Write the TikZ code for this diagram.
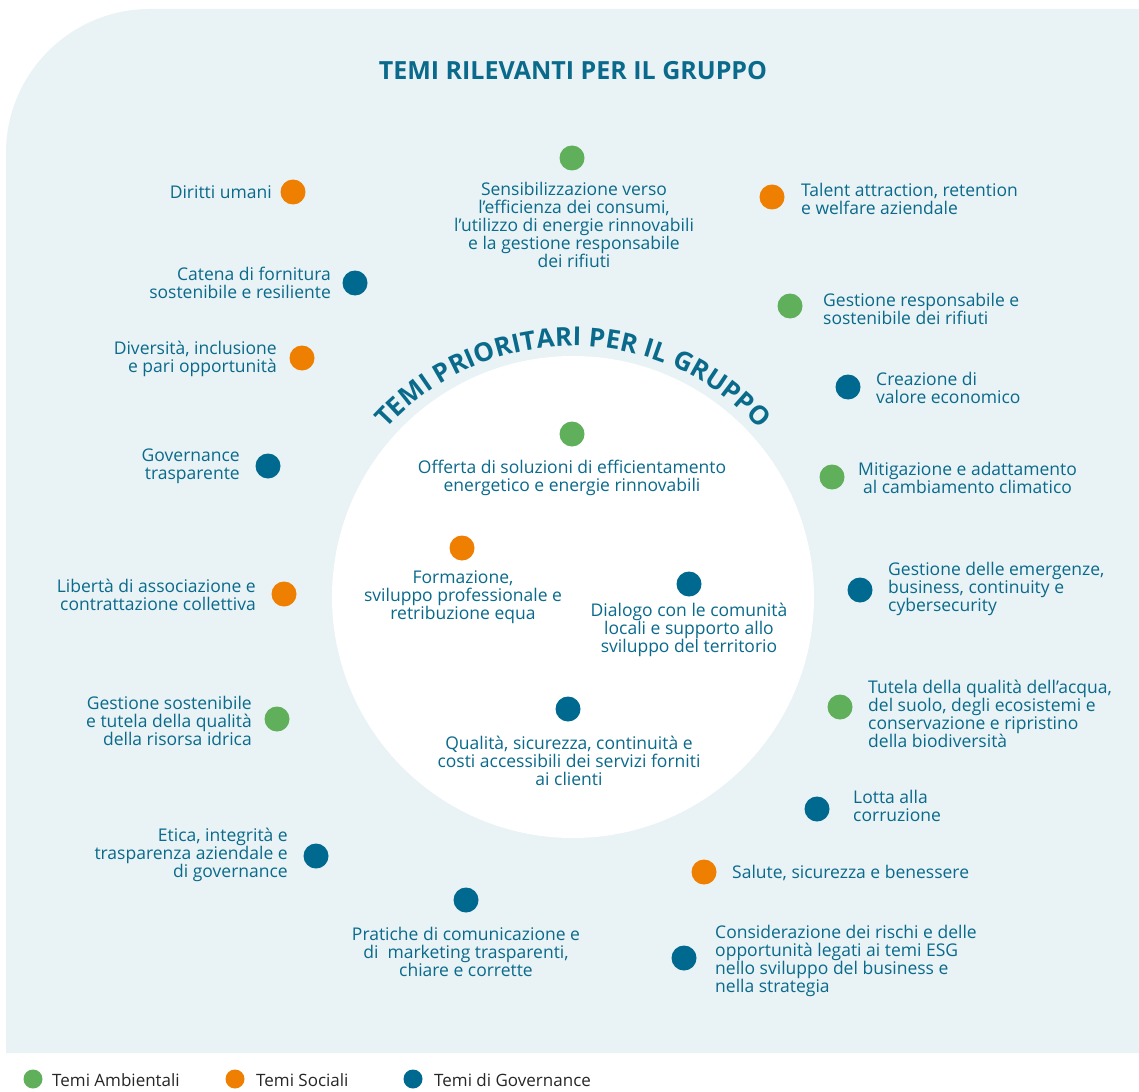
\documentclass[tikz,border=0pt]{standalone}
\usepackage{fontspec}
\setmainfont{Open Sans}
\usetikzlibrary{decorations.text}
\definecolor{panel}{HTML}{E9F2F4}
\definecolor{tema}{HTML}{0A6A8C}
\definecolor{ambgreen}{HTML}{5FAF5B}
\definecolor{socorange}{HTML}{EE7F00}
\definecolor{govblue}{HTML}{00698F}
\definecolor{legendtext}{HTML}{262626}

\begin{document}
\begin{tikzpicture}
[x=1pt, y=-1pt,
dot/.style={circle, minimum size=25pt, inner sep=0pt},
amb/.style={dot, fill=ambgreen},
soc/.style={dot, fill=socorange},
gov/.style={dot, fill=govblue},
theme/.style={text=tema, font=\fontsize{17.5}{18}\selectfont, inner sep=0pt},
key/.style={text=legendtext, font=\fontsize{17}{18}\selectfont, inner sep=0pt, anchor=west}]

\useasboundingbox (0, 0) rectangle (1139, 1091);
\fill [panel] (6, 1053) -- (6, 153) .. controls (6, 73.5) and (70.5, 9) .. (150, 9) -- (1139, 9) -- (1139, 1053) -- cycle;
\fill [white] (573, 597) circle [radius=241];

\node (title) at (573, 71) [text=tema, font=\fontsize{25}{25}\selectfont\bfseries] {TEMI RILEVANTI PER IL GRUPPO};
\path [shift={(573, 597)}, decorate, decoration={text along path, text={|\fontsize{26}{26}\selectfont\bfseries|TEMI PRIORITARI PER IL GRUPPO}, text color=tema, text align=fit to path}] (-138:251) arc [start angle=-138, end angle=-42, radius=251];

\node (a1) at (572, 158) [amb] {};
\node (s1) at (293, 192) [soc] {};
\node (s2) at (772, 197) [soc] {};
\node (g1) at (355, 283) [gov] {};
\node (a2) at (790, 306) [amb] {};
\node (s3) at (302, 358) [soc] {};
\node (g2) at (848, 387) [gov] {};
\node (g3) at (268, 466) [gov] {};
\node (a3) at (832, 477) [amb] {};
\node (a4) at (572, 434) [amb] {};
\node (s4) at (462, 548) [soc] {};
\node (s5) at (284, 594) [soc] {};
\node (g4) at (860, 590) [gov] {};
\node (g5) at (689, 584) [gov] {};
\node (a5) at (277, 719) [amb] {};
\node (a6) at (840, 707) [amb] {};
\node (g6) at (568, 709) [gov] {};
\node (g7) at (817, 809) [gov] {};
\node (g8) at (316, 856) [gov] {};
\node (s6) at (704, 872) [soc] {};
\node (g9) at (466, 900) [gov] {};
\node (g10) at (684, 958) [gov] {};

\node (ta1) at (574, 225) [theme, align=center] {Sensibilizzazione verso\\l’efficienza dei consumi,\\l’utilizzo di energie rinnovabili\\e la gestione responsabile\\dei rifiuti};
\node (ts1) at (272, 192) [theme, anchor=east, align=right] {Diritti umani};
\node (ts2) at (801, 199) [theme, anchor=west, align=left] {Talent attraction, retention\\e welfare aziendale};
\node (tg1) at (331, 283) [theme, anchor=east, align=right] {Catena di fornitura\\sostenibile e resiliente};
\node (ta2) at (823, 309) [theme, anchor=west, align=left] {Gestione responsabile e\\sostenibile dei rifiuti};
\node (ts3) at (277, 359) [theme, anchor=east, align=right] {Diversità, inclusione\\e pari opportunità};
\node (tg2) at (876, 388) [theme, anchor=west, align=left] {Creazione di\\valore economico};
\node (tg3) at (240, 466) [theme, anchor=east, align=right] {Governance\\trasparente};
\node (ta3) at (858, 478) [theme, anchor=west, align=center] {Mitigazione e adattamento\\al cambiamento climatico};
\node (ta4) at (572, 478) [theme, align=center] {Offerta di soluzioni di efficientamento\\energetico e energie rinnovabili};
\node (ts4) at (463, 597) [theme, align=center] {Formazione,\\sviluppo professionale e\\retribuzione equa};
\node (ts5) at (256, 595) [theme, anchor=east, align=right] {Libertà di associazione e\\contrattazione collettiva};
\node (tg4) at (888, 589) [theme, anchor=west, align=left] {Gestione delle emergenze,\\business, continuity e\\cybersecurity};
\node (tg5) at (689, 630) [theme, align=center] {Dialogo con le comunità\\locali e supporto allo\\sviluppo del territorio};
\node (ta5) at (252, 721) [theme, anchor=east, align=right] {Gestione sostenibile\\e tutela della qualità\\della risorsa idrica};
\node (ta6) at (868, 714) [theme, anchor=west, align=left] {Tutela della qualità dell’acqua,\\del suolo, degli ecosistemi e\\conservazione e ripristino\\della biodiversità};
\node (tg6) at (569, 761) [theme, align=center] {Qualità, sicurezza, continuità e\\costi accessibili dei servizi forniti\\ai clienti};
\node (tg7) at (853, 806) [theme, anchor=west, align=left] {Lotta alla\\corruzione};
\node (tg8) at (288, 855) [theme, anchor=east, align=right] {Etica, integrità e\\trasparenza aziendale e\\di governance};
\node (ts6) at (732, 873) [theme, anchor=west, align=left] {Salute, sicurezza e benessere};
\node (tg9) at (466, 952) [theme, align=center] {Pratiche di comunicazione e\\di\ \ marketing trasparenti,\\chiare e corrette};
\node (tg10) at (715, 961) [theme, anchor=west, align=left] {Considerazione dei rischi e delle\\opportunità legati ai temi ESG\\nello sviluppo del business e\\nella strategia};

\node (ka) at (33, 1079) [amb, minimum size=19pt] {};
\node (ks) at (235, 1079) [soc, minimum size=19pt] {};
\node (kg) at (413, 1079) [gov, minimum size=19pt] {};
\node (tka) at (52, 1080) [key] {Temi Ambientali};
\node (tks) at (256, 1080) [key] {Temi Sociali};
\node (tkg) at (434, 1080) [key] {Temi di Governance};
\end{tikzpicture}
\end{document}
